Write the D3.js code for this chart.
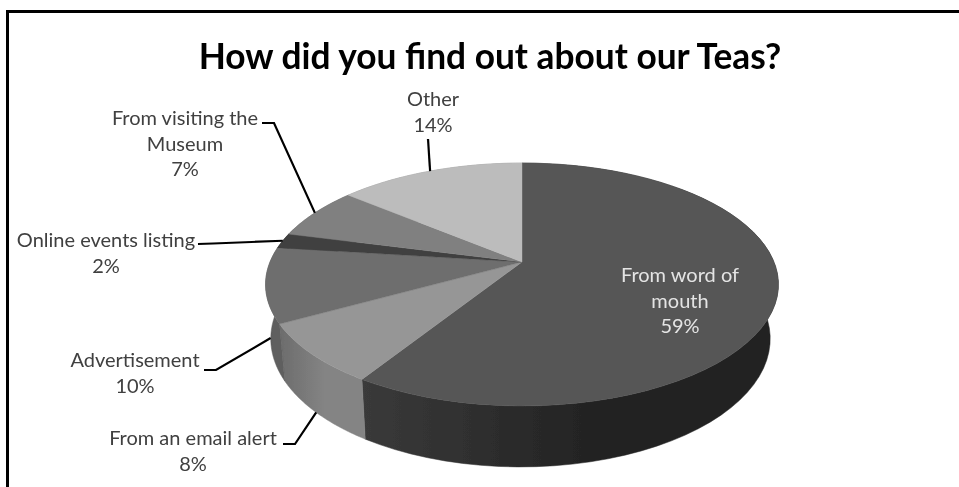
<!DOCTYPE html>
<html><head><meta charset="utf-8">
<script src="https://cdn.jsdelivr.net/npm/d3@7"></script>
<style>html,body{margin:0;padding:0;background:#fff}svg{display:block}text{font-family:Lato,"Open Sans",sans-serif}</style>
</head><body><svg id="c" width="959" height="487"></svg>
<script>
const title = "How did you find out about our Teas?";
const categories = ["From word of mouth","From an email alert","Advertisement","Online events listing","From visiting the Museum","Other"];
const values = [59,8,10,2,7,14];
const labelLines = [["From word of","mouth"],["From an email alert"],["Advertisement"],["Online events listing"],["From visiting the","Museum"],["Other"]];
const topColors = ["#565656","#969696","#6e6e6e","#404040","#808080","#bcbcbc"];
const sideColors = [["#3a3a3a","#232323"],["#6c6c6c","#848484"],["#585858","#5e5e5e"],["#333","#333"],["#666","#666"],["#999","#999"]];
const textColors = ["#e4e4e4","#404040","#404040","#404040","#404040","#404040"];
const labelPos = [[680,282],[193,445],[135,367],[106,247],[185,125],[433,106]];
const leaders = [null,{z:1,via:[[295,444],[283,444]]},{z:.97,via:[[216,370],[204,370]]},{z:0,via:[[213,243.5],[198,244]]},{z:0,via:[[274,123],[262,123]]},{z:0,via:[[428,139]]}];

const svg = d3.select("#c");
const cx=522, cy=262, A=252, B=117.3, K=.1852, M=.026, C=55, SKEW=1.5;
function project(t,z){
  const u=Math.sin(t), v=-Math.cos(t), w=1-K*v+M*z;
  return [cx-SKEW*z+A*u/w, cy+(B*v+C*z)/w];
}
const arcs = d3.pie().sort(null).value(d=>d)(values);
const samples=(a,b)=>d3.range(0,61).map(i=>a+(b-a)*i/60);
const line=d3.line();

const defs=svg.append("defs");
defs.append("filter").attr("id","soft").attr("x",0).attr("y",0).attr("width",1).attr("height",1)
  .append("feGaussianBlur").attr("stdDeviation",.4);
const root=svg.append("g").attr("filter","url(#soft)");
root.append("rect").attr("width",959).attr("height",487).attr("fill","#fff");

// frame
root.append("path").attr("d","M7.5,490V11.5H962").attr("fill","none").attr("stroke","#000").attr("stroke-width",3);

// gradients for the side wall
arcs.forEach((d,i)=>{
  const xs=samples(d.startAngle,d.endAngle).map(t=>project(t,0)[0]);
  const g=defs.append("linearGradient").attr("id","s"+i).attr("gradientUnits","userSpaceOnUse")
    .attr("x1",d3.min(xs)).attr("x2",d3.max(xs)).attr("y1",0).attr("y2",0);
  g.append("stop").attr("offset",0).attr("stop-color",sideColors[i][0]);
  g.append("stop").attr("offset",.55).attr("stop-color",sideColors[i][1]);
  g.append("stop").attr("offset",1).attr("stop-color",sideColors[i][1]);
});

// side wall then top face
arcs.forEach((d,i)=>{
  const ts=samples(d.startAngle,d.endAngle);
  const pts=ts.map(t=>project(t,0)).concat(ts.slice().reverse().map(t=>project(t,1)));
  root.append("path").attr("d",line(pts)+"Z").attr("fill",`url(#s${i})`).attr("stroke",`url(#s${i})`).attr("stroke-width",.5);
});
arcs.forEach((d,i)=>{
  const pts=[[cx,cy]].concat(samples(d.startAngle,d.endAngle).map(t=>project(t,0)));
  root.append("path").attr("d",line(pts)+"Z").attr("fill",topColors[i]).attr("stroke",topColors[i]).attr("stroke-width",.4);
});

// leaders
arcs.forEach((d,i)=>{
  const l=leaders[i]; if(!l) return;
  const p=project((d.startAngle+d.endAngle)/2,l.z);
  root.append("path").attr("d",line([p].concat(l.via))).attr("fill","none").attr("stroke","#000").attr("stroke-width",2.2);
});

// title & labels
root.append("text").attr("x",490).attr("y",69).attr("text-anchor","middle").attr("font-size",35.3).attr("font-weight",700).attr("fill","#000").text(title);
arcs.forEach((d,i)=>{
  const t=root.append("text").attr("text-anchor","middle").attr("font-size",20).attr("fill",textColors[i]);
  labelLines[i].concat([values[i]+"%"]).forEach((s,j)=>{
    t.append("tspan").attr("x",labelPos[i][0]).attr("y",labelPos[i][1]+j*25.7).text(s);
  });
});
</script></body></html>
